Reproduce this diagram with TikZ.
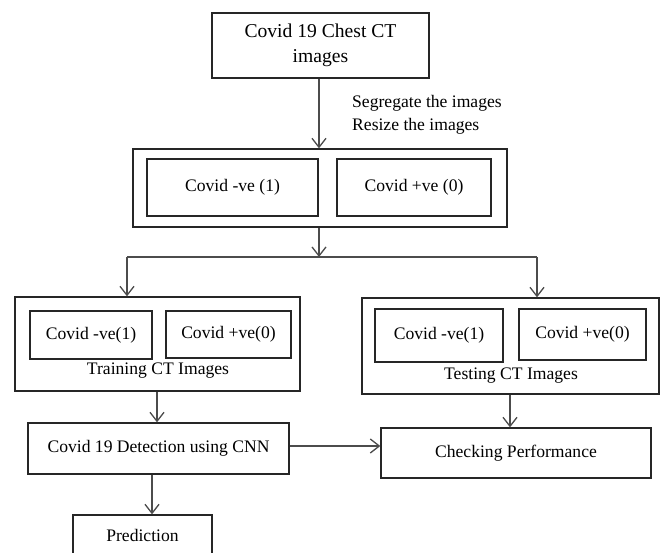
\documentclass[tikz,border=0pt]{standalone}
\usepackage{fontspec}
\setmainfont{Liberation Serif}
\usetikzlibrary{arrows.meta,calc}
\begin{document}
\begin{tikzpicture}[x=1pt,y=-1pt,
  box/.style={draw=black!85,line width=1.3pt,rectangle,inner sep=0pt,align=center,font=\fontsize{17.6}{22}\selectfont},
  lbl/.style={inner sep=0pt,font=\fontsize{17.6}{22}\selectfont},
  arr/.style={draw=black!70,line width=1.3pt,-{Straight Barb[length=9pt,width=14pt]}},
  ln/.style={draw=black!70,line width=1.3pt}]
\useasboundingbox (0,0) rectangle (663,553);
\clip (0,0) rectangle (663,553);
\fill[white] (0,0) rectangle (663,553);
% top
\node[box,minimum width=217pt,minimum height=65pt,font=\fontsize{19.6}{25}\selectfont] (top) at (320.5,45.5) {Covid 19 Chest CT\\images};
\node[lbl,anchor=west,align=left,font=\fontsize{17.6}{23}\selectfont] (seg) at (352,114.5) {Segregate the images\\Resize the images};
% second level
\node[box,minimum width=374pt,minimum height=78pt] (outer) at (320,188) {};
\node[box,minimum width=171pt,minimum height=57pt] (neg) at (232.5,187.5) {Covid -ve (1)};
\node[box,minimum width=154pt,minimum height=57pt] (pos) at (414,187.5) {Covid +ve (0)};
% training
\node[box,minimum width=285pt,minimum height=94pt] (train) at (157.5,344) {};
\node[box,minimum width=122pt,minimum height=48pt] (negA) at (91,335) {Covid -ve(1)};
\node[box,minimum width=125pt,minimum height=47pt] (posA) at (228.5,334.5) {Covid +ve(0)};
\node[lbl] (trainl) at (158,371) {Training CT Images};
% testing
\node[box,minimum width=297pt,minimum height=96pt] (test) at (510.5,346) {};
\node[box,minimum width=128pt,minimum height=53pt] (negB) at (439,335.5) {Covid -ve(1)};
\node[box,minimum width=127pt,minimum height=51pt] (posB) at (582.5,334.5) {Covid +ve(0)};
\node[lbl] (testl) at (511,376) {Testing CT Images};
% lower
\node[box,minimum width=261pt,minimum height=51pt] (detect) at (158.5,448.5) {Covid 19 Detection using CNN};
\node[box,minimum width=270pt,minimum height=50pt] (check) at (516,453) {Checking Performance};
\node[box,minimum width=139pt,minimum height=40pt] (pred) at (142.5,535) {Prediction};
% connectors
\coordinate (br) at (319,257);
\coordinate (bl) at (127,257);
\coordinate (brr) at (537,257);
\draw[arr] (top.south -| br) -- (outer.north -| br);
\draw[arr] (outer.south -| br) -- (br);
\draw[ln] (bl) -- (brr);
\draw[arr] (bl) -- (bl |- train.north);
\draw[arr] (brr) -- (brr |- test.north);
\coordinate (tx) at (157,0);
\draw[arr] (train.south -| tx) -- (detect.north -| tx);
\coordinate (px) at (152,0);
\draw[arr] (detect.south -| px) -- (pred.north -| px);
\coordinate (cx) at (510,0);
\draw[arr] (test.south -| cx) -- (check.north -| cx);
\coordinate (hy) at (0,446);
\draw[arr] (detect.east |- hy) -- (check.west |- hy);
\end{tikzpicture}
\end{document}
